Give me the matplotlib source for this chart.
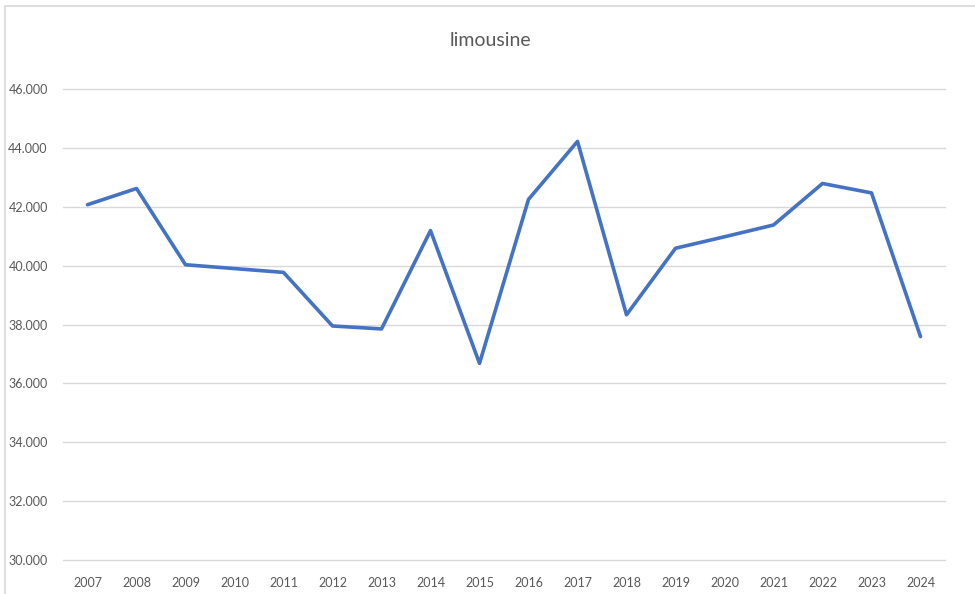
import matplotlib.pyplot as plt
from matplotlib.patches import Rectangle
from matplotlib.ticker import FuncFormatter

plt.rcParams['font.family'] = ['Lato', 'DejaVu Sans']

# dati
years = [str(y) for y in range(2007, 2025)]
values = [42.07, 42.62, 40.03, 39.90, 39.77, 37.95, 37.85, 41.19, 36.68,
          42.25, 44.22, 38.33, 40.59, 40.98, 41.38, 42.79, 42.47, 37.59]
yticks = [30, 32, 34, 36, 38, 40, 42, 44, 46]

fig = plt.figure(figsize=(9.75, 5.94), dpi=100)
fig.patches.append(Rectangle((5 / 975, -0.1), 1.2, 1.1 - 6 / 594,
                             transform=fig.transFigure, fill=False,
                             edgecolor='#D9D9D9', linewidth=1.2))
ax = fig.add_axes([63 / 975, 1 - 560 / 594, 882 / 975, 471 / 594])

x = list(range(len(years)))
ax.plot(x, values, color='#4472C4', linewidth=2.6, solid_joinstyle='round',
        solid_capstyle='round')

ax.set_xlim(-0.5, len(years) - 0.5)
ax.set_ylim(30, 46)
ax.set_yticks(yticks)
ax.yaxis.set_major_formatter(FuncFormatter(lambda v, p: f'{v:.3f}'))
ax.set_xticks(x)
ax.set_xticklabels(years)

ax.grid(axis='y', color='#D9D9D9', linewidth=1.0)
for gl in ax.get_ygridlines():
    gl.set_clip_on(False)
ax.set_axisbelow(True)
for s in ax.spines.values():
    s.set_visible(False)
ax.tick_params(axis='both', length=0, colors='#595959', labelsize=9)
ax.tick_params(axis='x', pad=12)
ax.tick_params(axis='y', pad=11)

fig.text(490 / 975, 1 - 41 / 594, 'limousine', ha='center', va='center',
         fontsize=14, color='#595959')

fig.savefig('out.png', dpi=100)
